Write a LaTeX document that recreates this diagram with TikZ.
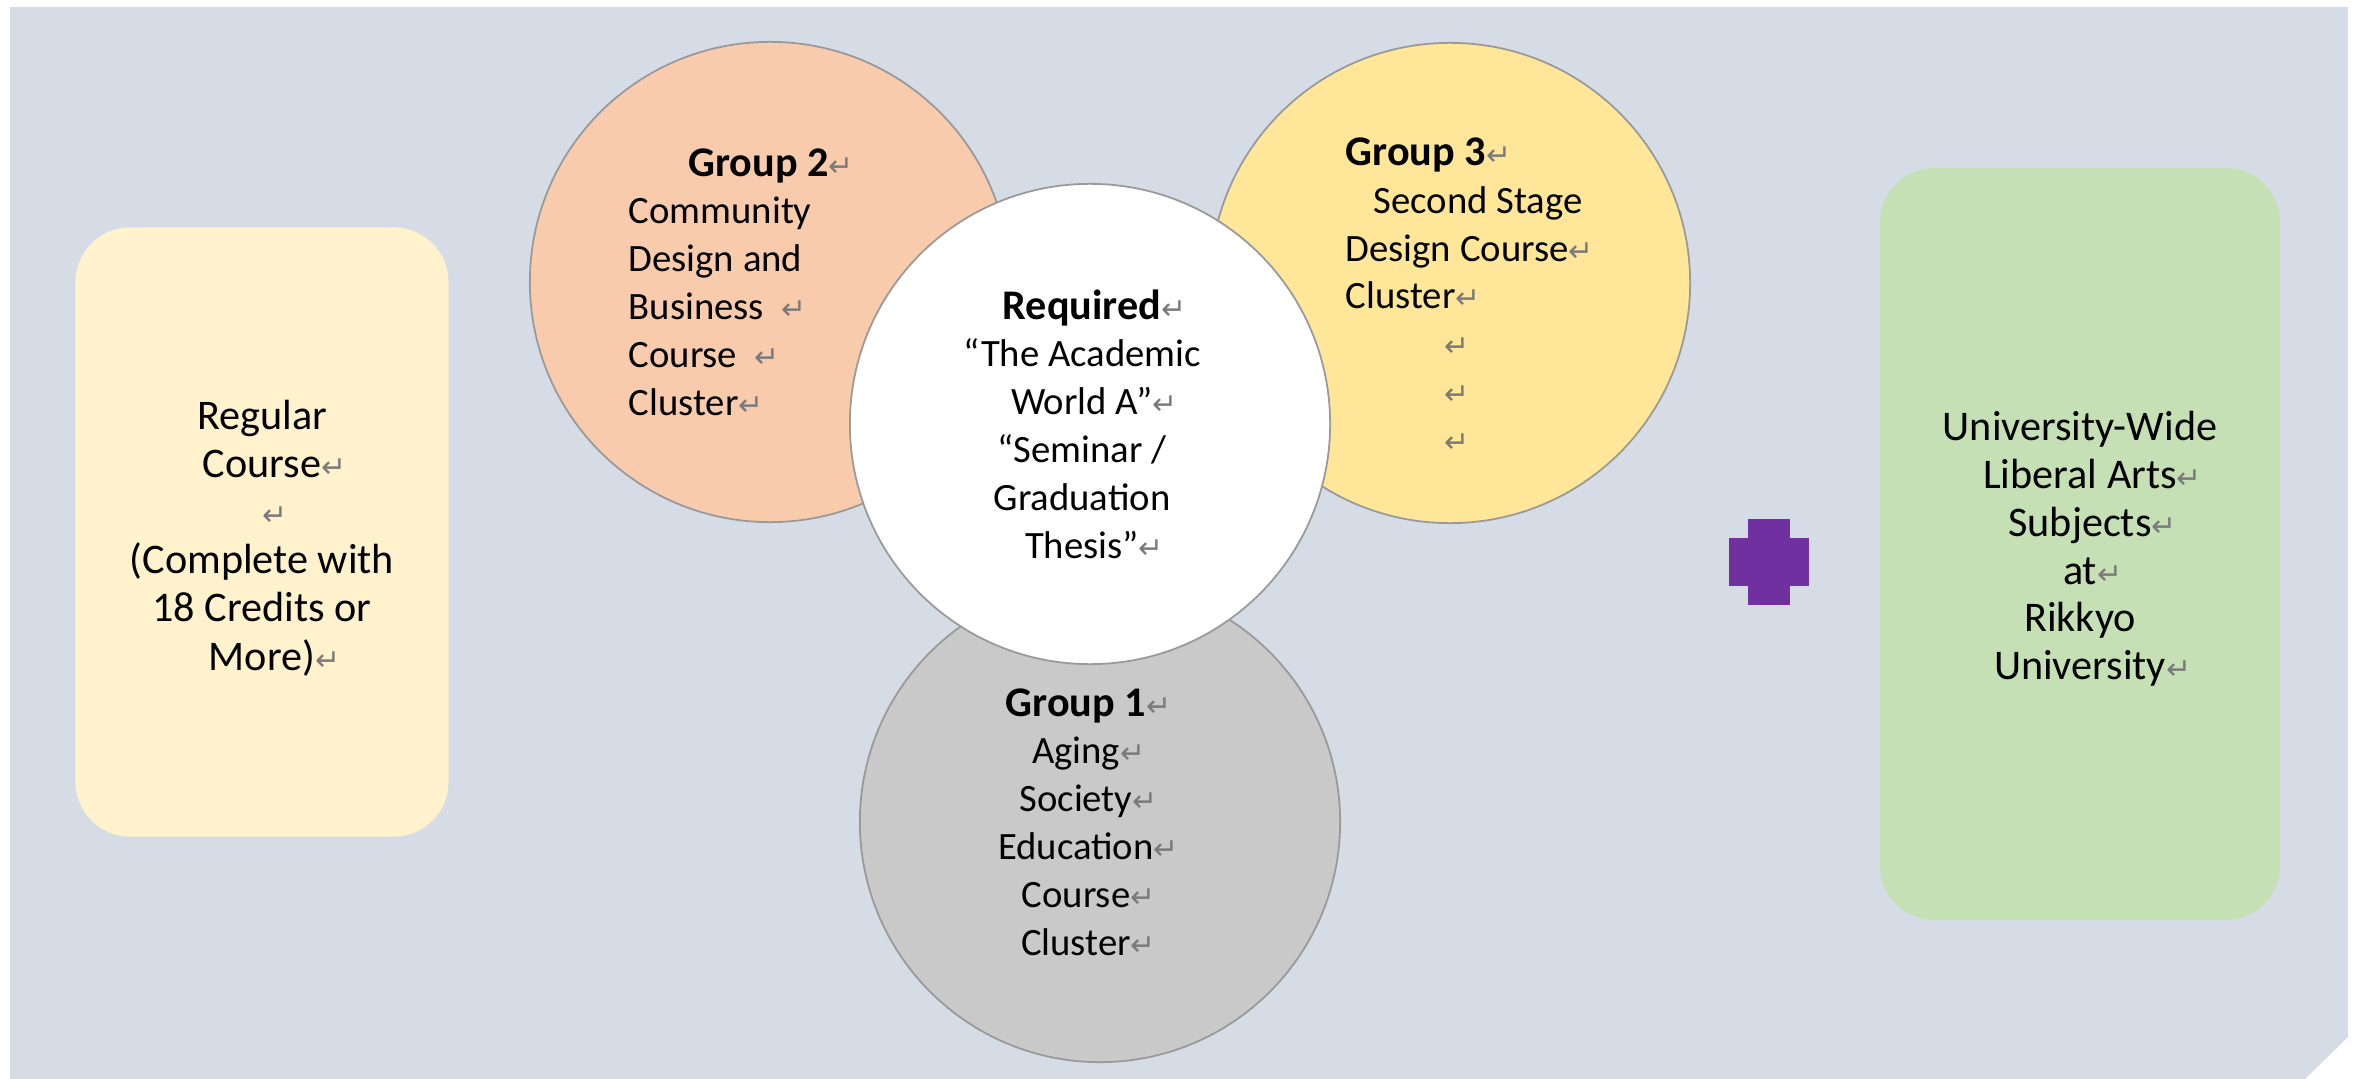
\documentclass[tikz,border=0pt]{standalone}
\usepackage{fontspec}
\setmainfont{Carlito}
\newfontfamily\markfont{DejaVu Sans}
\usepackage{tikz}

\definecolor{bgcol}{HTML}{D6DCE5}
\definecolor{regcol}{HTML}{FFF2CC}
\definecolor{libcol}{HTML}{C5E0B4}
\definecolor{grponecol}{HTML}{C9C9C9}
\definecolor{grptwocol}{HTML}{F8CBAD}
\definecolor{grpthreecol}{HTML}{FFE699}
\definecolor{pluscol}{HTML}{7030A0}
\definecolor{markgray}{HTML}{7A7A7A}

% paragraph mark and bold group heading
\newcommand{\rmark}{\rlap{\markfont\fontsize{8.5}{8.5}\selectfont\color{markgray}↵}}
\newcommand{\grphead}[1]{{\fontsize{12}{13.5}\selectfont\bfseries #1}}

\begin{document}
\begin{tikzpicture}[x=0.01cm,y=-0.01cm,
  grp/.style={circle,draw=black!40,line width=0.5pt,minimum size=4.8cm,inner sep=0pt},
  box/.style={rectangle,rounded corners=0.55cm,inner sep=0pt},
  txt/.style={inner sep=0pt,font=\fontsize{11}{13.6}\selectfont}]
\useasboundingbox (0,0) rectangle (2357,1079);
\fill[bgcol] (10,7) -- (2348,7) -- (2348,1037) -- (2305,1079) -- (10,1079) -- cycle;

% side boxes
\node[box,fill=regcol,minimum width=3.73cm,minimum height=6.09cm] (regular) at (262,532) {};
\node[txt,align=center,font=\fontsize{12}{13.7}\selectfont] (regtxt) at (262,538)
  {Regular\\Course\rmark\\\rmark\\(Complete with\\18 Credits or\\More)\rmark};
\node[box,fill=libcol,minimum width=4cm,minimum height=7.52cm] (liberal) at (2080,544) {};
\node[txt,align=center,font=\fontsize{12}{13.6}\selectfont] (libtxt) at (2080,549)
  {University-Wide\\Liberal Arts\rmark\\Subjects\rmark\\at\rmark\\Rikkyo\\University\rmark};
\fill[pluscol] (1748,519) rectangle (1790,605);
\fill[pluscol] (1729,538) rectangle (1809,586);

% the four circles
\node[grp,fill=grptwocol] (grp2) at (770,282) {};
\node[grp,fill=grpthreecol] (grp3) at (1450,283) {};
\node[grp,fill=grponecol] (grp1) at (1100,822) {};
\node[grp,fill=white] (req) at (1090,424) {};

\node[txt,anchor=west,align=left] (grp2txt) at (628,282)
  {\hspace*{17pt}\grphead{Group 2}\rmark\\Community\\Design and\\Business\ \ \rmark\\Course\ \ \rmark\\Cluster\rmark};
\node[txt,anchor=west,align=left] (grp3txt) at (1345,295)
  {\grphead{Group 3}\rmark\\\hspace*{8pt}Second Stage\\Design Course\rmark\\Cluster\rmark\\
   \hspace*{28pt}\rmark\\\hspace*{28pt}\rmark\\\hspace*{28pt}\rmark};
\node[txt,align=center] (reqtxt) at (1082,424)
  {\grphead{Required}\rmark\\“The Academic\\World A”\rmark\\“Seminar /\\Graduation\\Thesis”\rmark};
\node[txt,align=center] (grp1txt) at (1076,822)
  {\grphead{Group 1}\rmark\\Aging\rmark\\Society\rmark\\Education\rmark\\Course\rmark\\Cluster\rmark};
\end{tikzpicture}
\end{document}
